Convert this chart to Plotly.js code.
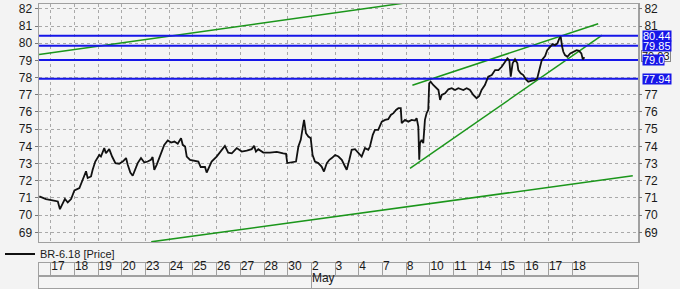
<!DOCTYPE html>
<html>
<head>
<meta charset="utf-8">
<script src="https://cdn.plot.ly/plotly-3.0.1.min.js"></script>
<style>html,body{margin:0;padding:0;background:#f3f3f3;}#chart{width:680px;height:289px;}</style>
</head>
<body>
<div id="chart"></div>
<script>
// Trading-day labels (Apr 17 .. May 18), one per session index
const dayLabels = ['17','18','19','20','23','24','25','26','27','28','30','2','3','4','7','8','10','11','14','15','16','17','18'];
const monthLabels = ['May'];
const monthStart = [11];

// Price path: time in trading-day units (0 = start of Apr 17 session), value in price
const priceT = [-0.48,-0.20,0.08,0.30,0.39,0.51,0.60,0.72,0.86,1.00,1.21,1.35,1.49,1.56,1.70,1.77,1.88,2.05,2.12,2.26,2.33,2.47,2.59,2.73,2.89,3.04,3.18,3.25,3.36,3.46,3.57,3.67,3.81,3.95,4.09,4.23,4.30,4.37,4.47,4.65,4.79,4.94,5.08,5.22,5.36,5.50,5.57,5.67,5.74,5.88,6.09,6.23,6.33,6.51,6.58,6.69,6.79,7.00,7.22,7.35,7.49,7.64,7.85,8.06,8.27,8.48,8.58,8.66,8.76,8.97,9.25,9.54,9.81,9.93,9.98,10.17,10.35,10.45,10.55,10.63,10.69,10.77,10.87,10.97,11.05,11.15,11.29,11.43,11.53,11.65,11.76,11.86,12.00,12.14,12.28,12.42,12.49,12.60,12.70,12.84,12.98,13.12,13.26,13.40,13.47,13.59,13.68,13.82,13.97,14.11,14.24,14.35,14.46,14.57,14.67,14.77,14.81,14.95,15.09,15.23,15.37,15.44,15.51,15.55,15.58,15.65,15.72,15.79,15.86,15.93,15.97,16.03,16.14,16.26,16.36,16.43,16.50,16.64,16.78,16.92,17.06,17.20,17.41,17.55,17.69,17.83,17.97,18.08,18.18,18.32,18.46,18.61,18.75,18.89,19.03,19.13,19.22,19.27,19.35,19.41,19.49,19.59,19.69,19.73,19.83,19.94,20.05,20.15,20.30,20.43,20.53,20.62,20.72,20.86,20.95,21.07,21.18,21.28,21.38,21.46,21.52,21.58,21.63,21.70,21.80,21.92,22.06,22.19,22.29,22.39,22.45,22.52];
const priceV = [71.09,70.94,70.86,70.80,70.35,70.70,70.95,70.74,70.94,71.44,71.58,72.06,72.55,72.16,72.25,72.64,73.12,73.50,73.41,73.90,73.60,73.84,73.41,73.03,72.99,73.12,73.32,72.93,72.48,72.29,72.64,73.03,73.32,73.06,73.12,73.22,73.38,72.64,72.93,73.60,74.09,74.34,74.22,74.28,74.15,74.48,74.09,73.99,73.41,73.22,73.18,73.12,72.80,72.80,72.48,72.83,73.12,73.41,73.84,74.03,73.64,73.60,73.90,73.70,73.76,73.84,74.03,73.70,73.84,73.64,73.64,73.68,73.60,73.57,73.03,73.06,73.12,73.99,74.38,75.06,75.54,74.77,74.57,74.48,73.50,73.12,73.03,72.83,72.54,73.03,73.22,73.32,73.50,73.41,73.22,72.83,72.64,73.22,73.80,73.84,73.60,73.41,73.90,73.80,73.99,74.67,74.96,74.96,75.44,75.54,75.58,75.83,75.93,76.12,76.22,76.22,75.35,75.54,75.44,75.54,75.50,75.64,75.15,73.22,74.19,74.38,74.19,75.54,75.93,76.12,77.67,77.76,77.57,77.38,77.28,76.70,76.99,77.09,77.32,77.38,77.28,77.38,77.28,77.38,77.28,76.99,76.80,76.93,77.28,77.57,78.05,78.15,78.44,78.44,78.63,78.83,79.06,79.12,79.02,78.05,78.83,79.06,78.83,78.44,78.25,78.15,77.90,77.76,77.82,77.86,77.96,78.44,79.02,79.25,79.60,79.79,79.95,79.89,79.99,80.28,80.37,79.79,79.50,79.31,79.21,79.41,79.50,79.60,79.56,79.41,79.06,79.18];

// Trend lines (start/end in day units and price)
const trendX = [[-0.49, 15.0], [4.24, 24.56], [15.26, 23.10], [15.16, 23.27]];
const trendY = [[79.35, 82.35], [68.45, 72.29], [77.56, 81.13], [72.72, 80.47]];

// Horizontal levels and their axis labels
const levels = [80.44, 79.85, 79.03, 77.94];
const levelLabels = ['80.44', '79.85', '79.0', '77.94'];
const lastPriceLabel = '79.03';
const lastPriceLevel = 79.27;

const priceTicks = [69,70,71,72,73,74,75,76,77,78,79,80,81,82];
const rightPriceTicks = [69,70,71,72,73,74,75,76,77,81,82];

const xRange = [-0.494, 24.78];
const yRange = [68.44, 82.28];
const W = 680, H = 289;
const px = v => v / W, py = v => 1 - v / H;

const FONT = 'Liberation Sans, Arial, sans-serif';
const GREEN = '#1b961b', BLUE = '#1616e8', GRID = '#a9a9a9', BORDER = '#a0a0a0';

const traces = [];
trendX.forEach((tx, k) => traces.push({
  type: 'scatter', mode: 'lines', x: tx, y: trendY[k], xaxis: 'x', yaxis: 'y',
  line: {color: GREEN, width: 1.5}, showlegend: false, hoverinfo: 'skip'
}));
levels.forEach(l => traces.push({
  type: 'scatter', mode: 'lines', x: xRange, y: [l, l], xaxis: 'x', yaxis: 'y',
  line: {color: BLUE, width: 2}, showlegend: false, hoverinfo: 'skip'
}));
traces.push({
  type: 'scatter', mode: 'lines', x: priceT, y: priceV, xaxis: 'x', yaxis: 'y',
  name: 'BR-6.18 [Price]', line: {color: '#111111', width: 1.8}, showlegend: true
});
traces.push({type: 'scatter', mode: 'lines', x: [], y: [], xaxis: 'x', yaxis: 'y4', showlegend: false});
traces.push({type: 'scatter', mode: 'lines', x: [], y: [], xaxis: 'x2', yaxis: 'y2', showlegend: false});
traces.push({type: 'scatter', mode: 'lines', x: [], y: [], xaxis: 'x3', yaxis: 'y3', showlegend: false});

const dayIdx = dayLabels.map((d, i) => i);

const annotations = [];
annotations.push({
  xref: 'paper', x: px(641), xanchor: 'left', yref: 'y', y: lastPriceLevel, yanchor: 'middle',
  text: lastPriceLabel, showarrow: false, font: {family: FONT, size: 11, color: '#111'},
  bgcolor: '#f6f6f6', bordercolor: '#888', borderwidth: 1, borderpad: 0, height: 10
});
levels.forEach((l, k) => annotations.push({
  xref: 'paper', x: px(641.5), xanchor: 'left', yref: 'y', y: l, yanchor: 'middle',
  text: levelLabels[k], showarrow: false, font: {family: FONT, size: 11, color: '#ffffff'},
  bgcolor: BLUE, borderpad: 0, height: 10
}));

const layout = {
  width: W, height: H,
  margin: {l: 0, r: 0, t: 0, b: 0},
  paper_bgcolor: '#f3f3f3', plot_bgcolor: '#f4f4f4',
  font: {family: FONT, size: 11, color: '#1a1a1a'},
  showlegend: true,
  legend: {x: 0, xanchor: 'left', y: py(254), yanchor: 'middle', bgcolor: 'rgba(0,0,0,0)',
           font: {family: FONT, size: 11, color: '#1a1a1a'}, itemwidth: 30},
  xaxis: {domain: [px(39), px(638)], range: xRange, anchor: 'y',
          tickvals: dayIdx, showticklabels: false, ticks: '',
          showgrid: true, gridcolor: GRID, griddash: 'dot', gridwidth: 1,
          showline: true, mirror: true, linecolor: BORDER, linewidth: 1, zeroline: false, fixedrange: true},
  yaxis: {domain: [py(242), py(4)], range: yRange, anchor: 'x',
          tickvals: priceTicks, ticks: 'outside', ticklen: 3, tickcolor: '#777',
          showgrid: true, gridcolor: GRID, griddash: 'dot', gridwidth: 1,
          showline: true, mirror: true, linecolor: BORDER, linewidth: 1.5, zeroline: false,
          tickfont: {family: FONT, size: 12, color: '#1a1a1a'}},
  yaxis4: {overlaying: 'y', side: 'right', anchor: 'x', range: yRange, matches: 'y',
           tickvals: rightPriceTicks, ticks: 'outside', ticklen: 3, tickcolor: '#777',
           showgrid: false, zeroline: false, showline: false,
           tickfont: {family: FONT, size: 12, color: '#1a1a1a'}},
  xaxis2: {domain: [px(39), px(638)], range: xRange, anchor: 'y2',
           tickvals: dayIdx, ticktext: dayLabels, ticks: '', ticklabelposition: 'inside right',
           showgrid: true, gridcolor: BORDER, gridwidth: 1,
           showline: true, mirror: true, linecolor: BORDER, linewidth: 1, zeroline: false,
           tickfont: {family: FONT, size: 12, color: '#1a1a1a'}},
  yaxis2: {domain: [py(275.5), py(262.7)], range: [0, 1], anchor: 'x2',
           showticklabels: false, showgrid: false, zeroline: false, ticks: '',
           showline: true, mirror: true, linecolor: BORDER, linewidth: 1},
  xaxis3: {domain: [px(39), px(638)], range: xRange, anchor: 'y3',
           tickvals: monthStart, ticktext: monthLabels, ticks: '', ticklabelposition: 'inside right',
           showgrid: true, gridcolor: BORDER, gridwidth: 1,
           showline: true, mirror: true, linecolor: BORDER, linewidth: 1, zeroline: false,
           tickfont: {family: FONT, size: 12, color: '#1a1a1a'}},
  yaxis3: {domain: [py(287.7), py(275.5)], range: [0, 1], anchor: 'x3',
           showticklabels: false, showgrid: false, zeroline: false, ticks: '',
           showline: true, mirror: true, linecolor: BORDER, linewidth: 1},
  annotations: annotations
};

Plotly.newPlot('chart', traces, layout, {staticPlot: true, displayModeBar: false});
</script>
</body>
</html>
